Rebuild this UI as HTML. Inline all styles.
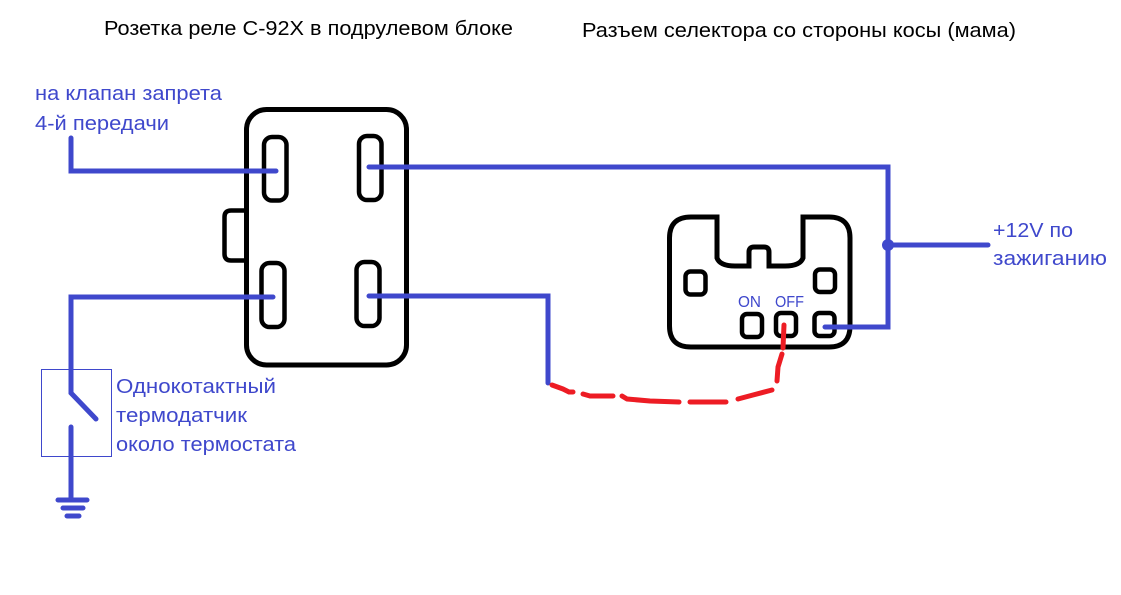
<!DOCTYPE html>
<html><head><meta charset="utf-8"><style>
html,body{margin:0;padding:0;background:#fff;width:1121px;height:595px;overflow:hidden}
svg{display:block}
text{font-family:"Liberation Sans",sans-serif;font-size:20.5px;fill:#3f48cc}
text.t{fill:#000}
</style></head><body>
<svg width="1121" height="595" viewBox="0 0 1121 595" xmlns="http://www.w3.org/2000/svg">
<rect width="1121" height="595" fill="#fff"/>
<text class="t" x="104" y="35" textLength="409" lengthAdjust="spacingAndGlyphs">Розетка реле С-92Х в подрулевом блоке</text>
<text class="t" x="582" y="37" textLength="434" lengthAdjust="spacingAndGlyphs">Разъем селектора со стороны косы (мама)</text>
<text x="35" y="100" textLength="187" lengthAdjust="spacingAndGlyphs">на клапан запрета</text>
<text x="35" y="130" textLength="134" lengthAdjust="spacingAndGlyphs">4-й передачи</text>
<text x="993" y="237" textLength="80" lengthAdjust="spacingAndGlyphs">+12V по</text>
<text x="993" y="265" textLength="114" lengthAdjust="spacingAndGlyphs">зажиганию</text>
<text x="116" y="393" textLength="160" lengthAdjust="spacingAndGlyphs">Однокотактный</text>
<text x="116" y="422" textLength="131" lengthAdjust="spacingAndGlyphs">термодатчик</text>
<text x="116" y="451" textLength="180" lengthAdjust="spacingAndGlyphs">около термостата</text>
<text x="738" y="307" style="font-size:16px" textLength="23" lengthAdjust="spacingAndGlyphs">ON</text>
<text x="775" y="307" style="font-size:16px" textLength="29" lengthAdjust="spacingAndGlyphs">OFF</text>

<g fill="none" stroke="#000" stroke-width="5">
<path d="M244 210.5H231q-6.500 0-6.500 6.500V254q0 6.500 6.500 6.500H244" stroke-width="4.500"/>
<rect x="246.500" y="109.500" width="160" height="255.500" rx="20"/>
<g stroke-width="4.500">
<rect x="264" y="137" width="22.500" height="63.500" rx="8"/>
<rect x="359" y="136" width="22.500" height="64" rx="8"/>
<rect x="261.500" y="263" width="23" height="64" rx="8"/>
<rect x="356.500" y="262" width="23" height="64" rx="8"/>
</g>
<path d="M717 217H691Q669.500 217 669.500 238V326Q669.500 347 691 347H829Q850 347 850 326V238Q850 217 829 217H803V258Q800 266 785 266H769V252Q769 247 764 247H754Q749 247 749 252V266H735Q720 266 717 258Z"/>
<g stroke-width="4.500">
<rect x="685.500" y="271.500" width="20" height="23" rx="5"/>
<rect x="815" y="269.500" width="20" height="22.500" rx="5"/>
<rect x="742" y="314" width="20" height="23" rx="5"/>
<rect x="776" y="313" width="20" height="23" rx="5"/>
<rect x="814.500" y="313" width="20" height="23" rx="5"/>
</g>
</g>

<rect x="41.500" y="369.500" width="70" height="87" fill="none" stroke="#3f48cc" stroke-width="1"/>

<g fill="none" stroke="#3f48cc" stroke-width="5" stroke-linecap="round" stroke-linejoin="miter">
<path d="M71 138V171H276"/>
<path d="M369 167H888V327H825"/>
<path d="M273 297H71V393L96 419"/>
<path d="M369 296H548V383"/>
<path d="M888 245H988"/>
<path d="M71 427V500"/>
<path d="M58 500H87M63 508H83M67 516H79"/>
</g>
<circle cx="888" cy="245" r="6" fill="#3f48cc"/>

<g fill="none" stroke="#ed1c24" stroke-width="5" stroke-linecap="round" stroke-linejoin="round">
<path d="M552 385L563 389L569 392H573"/>
<path d="M583 394L590 396H613"/>
<path d="M622 396L627 399L650 401L679 402"/>
<path d="M690 402H726"/>
<path d="M738 399L753 395L772 390"/>
<path d="M777 381L778 367L782 354"/>
<path d="M783 348L784 325"/>
</g>
</svg>
</body></html>
